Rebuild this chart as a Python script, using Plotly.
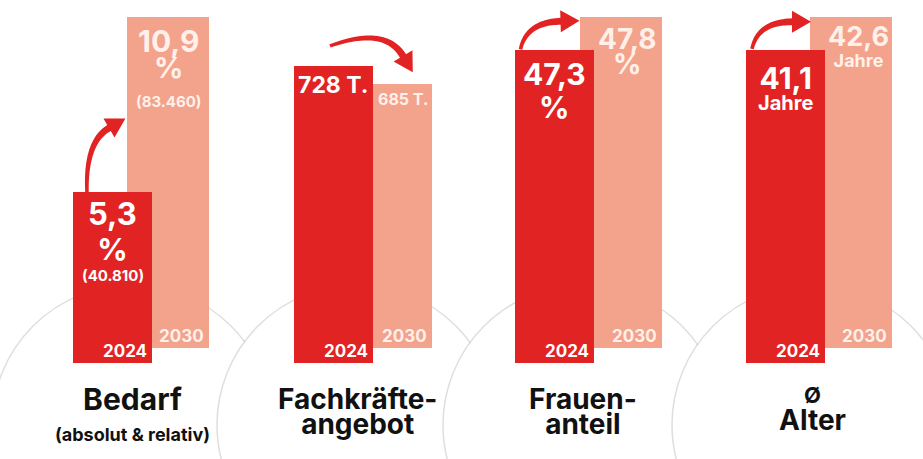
import numpy as np
import plotly.graph_objects as go

W, H = 923, 459

# ---------------- data ----------------
titles = [["Bedarf", "(absolut & relativ)"], ["Fachkräfte-", "angebot"],
          ["Frauen-", "anteil"], ["Ø", "Alter"]]
years = ["2024", "2030"]
bedarf_pct = [5.3, 10.9]
bedarf_abs = [40810, 83460]
angebot_tsd = [728, 685]
frauen_pct = [47.3, 47.8]
alter_jahre = [41.1, 42.6]
values = [bedarf_pct, angebot_tsd, frauen_pct, alter_jahre]


def de1(v):
    return f"{v:.1f}".replace(".", ",")


def deint(n):
    return f"{n:,}".replace(",", ".")


# ---------------- layout constants (pixels) ----------------
DARK, LIGHT = "#e22323", "#f3a28b"
LIGHT_TXT = "#fff1ea"
FONT = "Inter"
ASC, DESC = 0.96875, 0.2412        # font box metrics used by the browser
dom_bot, dom_top = 363, 17          # pixel extent of the bar axes
lift = 15                           # 2030 bars stand 15 px higher
dark_x = [112.5, 333.5, 554, 785.5]
light_x = [168, 391, 621, 851]
dark_w, light_w = 79, 82
y_ranges = [[-0.17, 10.9], [0, 848], [42.6, 47.8], [26.8, 42.6]]
circle_x = [132, 357, 583, 812]
circle_y, circle_r = 425, 140

# label blocks per bar: (lines [(text, size)], first baseline below bar top, line spacing)
labels_dark = [
    [([(de1(bedarf_pct[0]), 31), ("%", 30)], 33, 35), ([(f"({deint(bedarf_abs[0])})", 15)], 89, 0)],
    [([(f"{angebot_tsd[0]} T.", 23)], 27, 0)],
    [([(de1(frauen_pct[0]), 30), ("%", 30)], 35, 33)],
    [([(de1(alter_jahre[0]), 30), ("Jahre", 20)], 39, 21)],
]
labels_light = [
    [([(de1(bedarf_pct[1]), 30), ("%", 29)], 35, 26), ([(f"({deint(bedarf_abs[1])})", 15)], 90, 0)],
    [([(f"{angebot_tsd[1]} T.", 16)], 21, 0)],
    [([(de1(frauen_pct[1]), 28), ("%", 28)], 32, 25)],
    [([(de1(alter_jahre[1]), 27), ("Jahre", 18)], 29, 21)],
]
# titles: (sizes, first baseline, spacing)
title_fmt = [([30, 18], 410, 31), ([28, 28], 409, 25), ([28, 28], 409, 25), ([22, 28], 403, 27)]


def ypix(g, v):
    lo, hi = y_ranges[g]
    return dom_bot - (v - lo) / (hi - lo) * (dom_bot - dom_top)


def pap(py):
    return 1 - py / H


def text_block(lines, x, base1, spacing, color, xanchor="center"):
    """One annotation; line spacing set through the base font size."""
    n = len(lines)
    top = base1 - ASC * lines[0][1]
    bottom = base1 + spacing * (n - 1) + DESC * lines[-1][1]
    center = (top + bottom) / 2
    if n == 1:
        txt, base = lines[0][0], lines[0][1]
    else:
        txt = "<br>".join(f"<span style='font-size:{s}px'>{t}</span>" for t, s in lines)
        base = spacing / 1.3
    return dict(text=txt, x=x, y=pap(center), xref="x", yref="paper",
                xanchor=xanchor, yanchor="middle", showarrow=False, borderpad=0,
                font=dict(family=FONT, size=base, color=color, weight=700))


fig = go.Figure()
layout_axes = {}
for g in range(4):
    lo, hi = y_ranges[g]
    unit = (hi - lo) / (dom_bot - dom_top)
    yname = "y" if g == 0 else f"y{g+1}"
    akey = "yaxis" if g == 0 else f"yaxis{g+1}"
    light_base = lo + lift * unit
    fig.add_trace(go.Bar(x=[light_x[g]], y=[values[g][1] - light_base], base=[light_base],
                         width=[light_w], marker=dict(color=LIGHT, line=dict(width=0)),
                         yaxis=yname, xaxis="x", hoverinfo="skip", showlegend=False))
    fig.add_trace(go.Bar(x=[dark_x[g]], y=[values[g][0] - lo], base=[lo],
                         width=[dark_w], marker=dict(color=DARK, line=dict(width=0)),
                         yaxis=yname, xaxis="x", hoverinfo="skip", showlegend=False))
    ax = dict(domain=[pap(dom_bot), pap(dom_top)], range=[lo, hi], visible=False,
              fixedrange=True, showgrid=False, zeroline=False)
    if g > 0:
        ax["overlaying"] = "y"
    layout_axes[akey] = ax

annotations = []
shapes = []

# background circles
for g in range(4):
    cx = circle_x[g]
    shapes.append(dict(type="circle", xref="x", yref="paper", layer="below",
                       x0=cx - circle_r, x1=cx + circle_r,
                       y0=pap(circle_y + circle_r), y1=pap(circle_y - circle_r),
                       fillcolor="white", line=dict(color="rgba(0,0,0,0.13)", width=1.5)))

for g in range(4):
    d_left, d_right = dark_x[g] - dark_w / 2, dark_x[g] + dark_w / 2
    l_left, l_right = light_x[g] - light_w / 2, light_x[g] + light_w / 2
    d_top, l_top = ypix(g, values[g][0]), ypix(g, values[g][1])
    for lines, off, sp in labels_dark[g]:
        annotations.append(text_block(lines, dark_x[g], d_top + off, sp, "white"))
    last_lines, last_off, last_sp = labels_light[g][-1]
    block_bottom = l_top + last_off + last_sp * (len(last_lines) - 1)
    lx = light_x[g] if block_bottom < d_top else (d_right + l_right) / 2
    for lines, off, sp in labels_light[g]:
        annotations.append(text_block(lines, lx, l_top + off, sp, LIGHT_TXT))
    # year labels
    annotations.append(text_block([(years[0], 17)], d_right - 4, dom_bot - 6, 0, "white", "right"))
    annotations.append(text_block([(years[1], 17)], l_right - 4, dom_bot - lift - 6, 0,
                                  LIGHT_TXT, "right"))
    # category titles
    sizes, b1, sp = title_fmt[g]
    annotations.append(text_block(list(zip(titles[g], sizes)), circle_x[g], b1, sp, "#111111"))


def arrow_path(p0, p1, p2, w0, w1, head_len, head_w):
    p0, p1, p2 = map(np.array, (p0, p1, p2))
    t = np.linspace(0, 1, 30)[:, None]
    pts = (1 - t) ** 2 * p0 + 2 * (1 - t) * t * p1 + t ** 2 * p2
    tan = 2 * (1 - t) * (p1 - p0) + 2 * t * (p2 - p1)
    tan = tan / np.linalg.norm(tan, axis=1, keepdims=True)
    nor = np.stack([-tan[:, 1], tan[:, 0]], axis=1)
    w = (w0 + (w1 - w0) * t) / 2
    left = pts + nor * w
    right = pts - nor * w
    d, n = tan[-1], nor[-1]
    tip = p2 + d * head_len
    hb1 = p2 + n * head_w / 2
    hb2 = p2 - n * head_w / 2
    seq = list(left) + [hb1, tip, hb2] + list(right[::-1])
    parts = [f"{'M' if i == 0 else 'L'} {q[0]:.2f},{pap(q[1]):.5f}" for i, q in enumerate(seq)]
    return " ".join(parts) + " Z"


# arrows anchored to the 2024 bar (offsets in px from its left edge / top)
arrow_geo = [
    [(14, 1), (12, -50), (36, -64)],
    [(36, -20), (91, -40), (109, -10)],
    [(6, -1), (12, -28), (46, -29)],
    [(6, -1), (12, -28), (46, -28)],
]
for g in range(4):
    d_left = dark_x[g] - dark_w / 2
    d_top = ypix(g, values[g][0])
    pts = [(d_left + a, d_top + b) for a, b in arrow_geo[g]]
    shapes.append(dict(type="path", xref="x", yref="paper", layer="above",
                       path=arrow_path(*pts, 3.5, 7, 19, 22),
                       fillcolor=DARK, line=dict(width=0)))

fig.update_layout(
    width=W, height=H, margin=dict(l=0, r=0, t=0, b=0),
    paper_bgcolor="white", plot_bgcolor="rgba(0,0,0,0)",
    barmode="overlay", bargap=0,
    xaxis=dict(range=[0, W], domain=[0, 1], visible=False, fixedrange=True),
    annotations=annotations, shapes=shapes, showlegend=False,
    **layout_axes,
)

fig.write_html("out.html", config={"displayModeBar": False, "staticPlot": True},
               post_script="document.body.style.margin='0';")
